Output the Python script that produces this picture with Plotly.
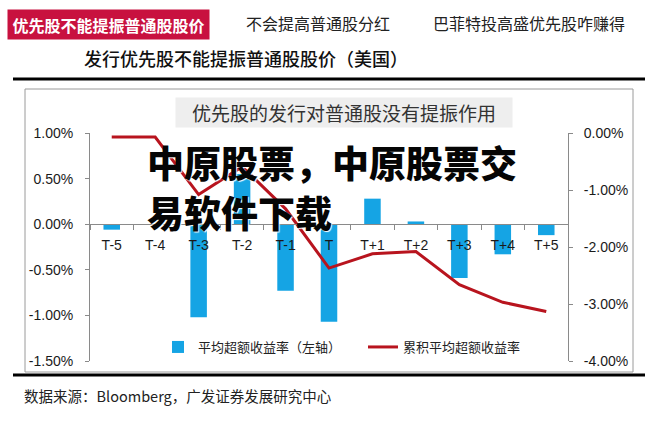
import plotly.graph_objects as go

categories = ["T-5", "T-4", "T-3", "T-2", "T-1", "T", "T+1", "T+2", "T+3", "T+4", "T+5"]
avg_excess = [-0.06, 0.0, -1.02, 0.55, -0.73, -1.07, 0.28, 0.03, -0.59, -0.33, -0.12]
cum_excess = [-0.07, -0.07, -1.08, -0.59, -1.33, -2.37, -2.12, -2.08, -2.66, -2.97, -3.13]
left_ticks = [-1.5, -1.0, -0.5, 0.0, 0.5, 1.0]
left_labels = ["-1.50%", "-1.00%", "-0.50%", "0.00%", "0.50%", "1.00%"]
right_ticks = [-4, -3, -2, -1, 0]
right_labels = ["-4.00%", "-3.00%", "-2.00%", "-1.00%", "0.00%"]

W, H = 654, 435
L, R, T, B = 90, 568, 133, 361


def px(x):
    return (x - L) / (R - L)


def py(y):
    return (B - y) / (B - T)


CJK = "Noto Sans CJK SC"
NUM = "Liberation Sans"

fig = go.Figure()
fig.add_trace(go.Bar(
    x=categories, y=avg_excess, name="平均超额收益率（左轴）",
    marker=dict(color="#15A4E4", line=dict(width=0)), width=0.38, yaxis="y",
))
fig.add_trace(go.Scatter(
    x=categories, y=cum_excess, name="累积平均超额收益率", mode="lines",
    line=dict(color="#B8141E", width=3), yaxis="y2",
))

fig.update_layout(
    width=W, height=H,
    margin=dict(l=L, r=W - R, t=T, b=H - B, pad=0),
    paper_bgcolor="white", plot_bgcolor="white",
    showlegend=True,
    legend=dict(orientation="h", x=px(158), y=py(347), xanchor="left", yanchor="middle",
                font=dict(family=CJK, size=13, color="#222"), bgcolor="rgba(0,0,0,0)",
                itemwidth=30, entrywidth=160, entrywidthmode="pixels"),
    xaxis=dict(type="category", range=[-0.5, 10.5], anchor="free", position=0.6,
               showline=True, linecolor="#8a8a8a", linewidth=1,
               ticks="outside", ticklen=5, tickcolor="#8a8a8a", tickson="boundaries",
               ticklabelstandoff=8,
               tickfont=dict(family=NUM, size=14, color="#1a1a1a"),
               showgrid=False, zeroline=False),
    yaxis=dict(range=[-1.5, 1.0], tickmode="array", tickvals=left_ticks, ticktext=left_labels,
               showline=True, linecolor="#8a8a8a", linewidth=1, ticks="outside",
               ticklen=4, tickcolor="#8a8a8a", ticklabelstandoff=9,
               tickfont=dict(family=NUM, size=14, color="#1a1a1a"),
               showgrid=False, zeroline=False),
    yaxis2=dict(range=[-4, 0], tickmode="array", tickvals=right_ticks, ticktext=right_labels,
                overlaying="y", side="right", anchor="x",
                showline=True, linecolor="#8a8a8a", linewidth=1, ticks="outside",
                ticklen=4, tickcolor="#8a8a8a", ticklabelstandoff=8,
                tickfont=dict(family=NUM, size=14, color="#1a1a1a"),
                showgrid=False, zeroline=False),
    bargap=0.6,
)

shapes = [
    dict(type="rect", xref="paper", yref="paper", x0=px(25), x1=px(633), y0=py(372), y1=py(89),
         line=dict(color="#9a9a9a", width=1), fillcolor="rgba(0,0,0,0)", layer="below"),
    dict(type="line", xref="paper", yref="paper", x0=px(13), x1=px(645), y0=py(79), y1=py(79),
         line=dict(color="black", width=3)),
    dict(type="line", xref="paper", yref="paper", x0=px(13), x1=px(645), y0=py(375), y1=py(375),
         line=dict(color="black", width=3)),
]
fig.update_layout(shapes=shapes)

ann = []
# top tabs
ann.append(dict(text="<b>优先股不能提振普通股股价</b>", xref="paper", yref="paper",
                x=px(108.5), y=py(24.5), xanchor="center", yanchor="middle", showarrow=False,
                bgcolor="#C8113F", width=201, height=29, borderpad=0,
                font=dict(family=CJK, size=16, color="white")))
ann.append(dict(text="不会提高普通股分红", xref="paper", yref="paper",
                x=px(318), y=py(23), xanchor="center", yanchor="middle", showarrow=False,
                font=dict(family=CJK, size=16, color="#222")))
ann.append(dict(text="巴菲特投高盛优先股咋赚得", xref="paper", yref="paper",
                x=px(529), y=py(23), xanchor="center", yanchor="middle", showarrow=False,
                font=dict(family=CJK, size=16, color="#222")))
# subtitle
ann.append(dict(text="发行优先股不能提振普通股股价（美国）", xref="paper", yref="paper",
                x=px(82), y=py(58), xanchor="left", yanchor="middle", showarrow=False,
                font=dict(family=CJK, size=18, color="#111", weight=500)))
# inner chart title
ann.append(dict(text="优先股的发行对普通股没有提振作用", xref="paper", yref="paper",
                x=px(344), y=py(112.5), xanchor="center", yanchor="middle", showarrow=False,
                bgcolor="#EEEEEE", width=334, height=27, borderpad=1,
                font=dict(family=CJK, size=19, color="#333")))
# source
ann.append(dict(text="数据来源：Bloomberg，广发证券发展研究中心", xref="paper", yref="paper",
                x=px(22), y=py(395), xanchor="left", yanchor="middle", showarrow=False,
                font=dict(family=CJK, size=14.5, color="#222")))
# watermark overlay
ann.append(dict(text="中原股票，中原股票交", xref="paper", yref="paper",
                x=px(145), y=py(162), xanchor="left", yanchor="middle", showarrow=False,
                font=dict(family=CJK, size=37, color="#050505", weight=900,
                          shadow="1px 1px 1px white")))
ann.append(dict(text="易软件下载", xref="paper", yref="paper",
                x=px(145), y=py(212), xanchor="left", yanchor="middle", showarrow=False,
                font=dict(family=CJK, size=37, color="#050505", weight=900,
                          shadow="1px 1px 1px white")))
fig.update_layout(annotations=ann)

fig.write_html("out.html")
